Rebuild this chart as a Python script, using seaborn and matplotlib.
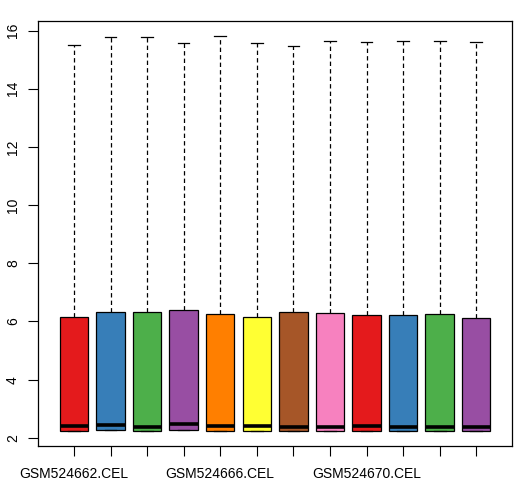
import matplotlib
matplotlib.use("Agg")
import matplotlib.pyplot as plt
import numpy as np
import pandas as pd
import seaborn as sns

# sample names and five-number summaries
samples = ["GSM5246%02d.CEL" % i for i in range(62, 74)]
mins = [2.25, 2.26, 2.25, 2.26, 2.25, 2.25, 2.25, 2.25, 2.25, 2.25, 2.25, 2.25]
q1 = [2.25, 2.26, 2.25, 2.26, 2.25, 2.25, 2.25, 2.25, 2.25, 2.25, 2.25, 2.25]
medians = [2.41, 2.43, 2.38, 2.47, 2.41, 2.41, 2.39, 2.39, 2.40, 2.39, 2.39, 2.39]
q3 = [6.17, 6.32, 6.33, 6.39, 6.27, 6.17, 6.31, 6.30, 6.24, 6.24, 6.26, 6.12]
maxs = [15.50, 15.77, 15.77, 15.56, 15.80, 15.56, 15.47, 15.64, 15.60, 15.63, 15.64, 15.60]
shown_labels = {0: "GSM524662.CEL", 4: "GSM524666.CEL", 8: "GSM524670.CEL"}

colors = sns.color_palette("Set1", 8)
colors = colors + colors[:4]

# five points per sample give exactly these quartiles with linear interpolation
rows = []
for s, a, b, c, d, e in zip(samples, mins, q1, medians, q3, maxs):
    for v in (a, b, c, d, e):
        rows.append({"sample": s, "value": v})
df = pd.DataFrame(rows)

plt.rcParams["font.family"] = ["Liberation Sans", "DejaVu Sans"]
fig = plt.figure(figsize=(5.29, 5.0), dpi=100)
ax = fig.add_axes([0.072, 0.108, 0.896, 0.85])

sns.boxplot(data=df, x="sample", y="value", hue="sample", palette=colors,
            legend=False, whis=(0, 100), width=0.78, saturation=1,
            linecolor="black", linewidth=0.9,
            whiskerprops=dict(linestyle=(0, (3.5, 2.5)), color="black", linewidth=0.9),
            capprops=dict(color="black", linewidth=0.9),
            medianprops=dict(color="black", linewidth=2.6),
            capwidths=0.32, showfliers=False, ax=ax)

ax.set_xlim(-0.98, 11.98)
ax.set_ylim(1.72, 16.33)
ax.set_yticks([2, 4, 6, 8, 10, 12, 14, 16])
ax.set_xticks(range(12))
ax.set_xticklabels([shown_labels.get(i, "") for i in range(12)])
ax.set_xlabel("")
ax.set_ylabel("")
ax.tick_params(axis="both", length=7, width=0.8, labelsize=10, colors="black")
ax.tick_params(axis="x", pad=8)
ax.tick_params(axis="y", pad=6)
for lab in ax.get_yticklabels():
    lab.set_rotation(90)
    lab.set_va("center")
for sp in ax.spines.values():
    sp.set_linewidth(0.9)
    sp.set_color("black")
ax.grid(False)

fig.savefig("out.png", dpi=100)
